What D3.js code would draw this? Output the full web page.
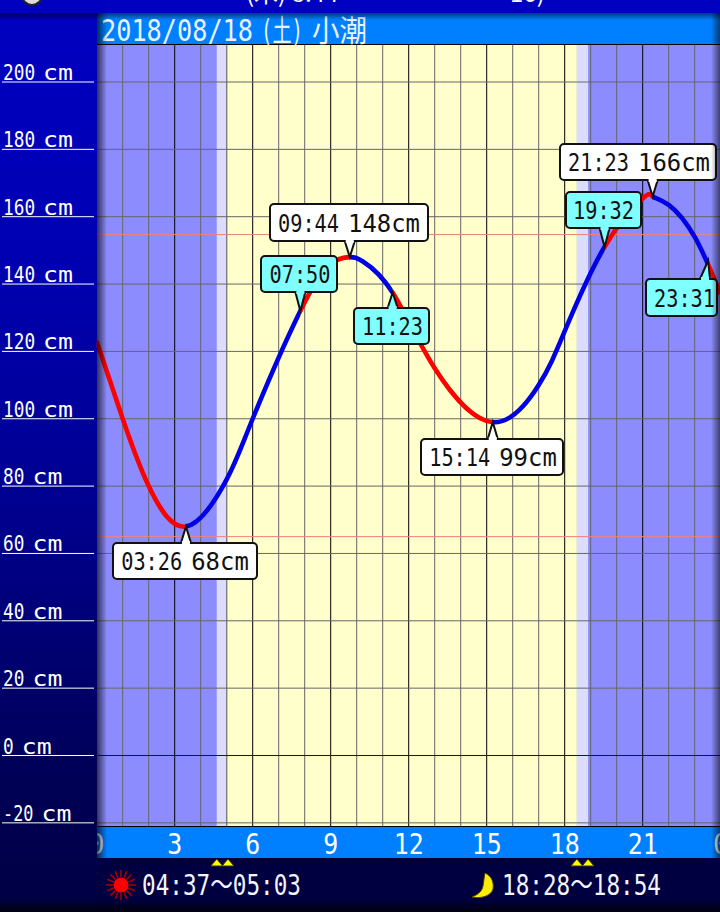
<!DOCTYPE html>
<html><head><meta charset="utf-8">
<script src="https://cdn.jsdelivr.net/npm/d3@7"></script>
<style>html,body{margin:0;padding:0;background:#000}svg{display:block}</style>
</head><body><svg id="c" width="720" height="912"></svg>
<script>
const heightTicks = [200,180,160,140,120,100,80,60,40,20,0,-20];
const hourLabels = [0,3,6,9,12,15,18,21,24];
const tideHours =  [0,1,2,3.43,5,6,7.83,9,9.73,10.24,11.38,13,15.23,17,18,19.53,21,21.38,22,23,24];
const tideValues = [123,100,80,68,82,100,132,146,148,146.7,137.5,115,99,110,126,151,165.4,166,163.5,154,137];
const eventTimes = ["03:26","07:50","09:44","11:23","15:14","19:32","21:23","23:31"];
const eventHours = [3+26/60,7+50/60,9+44/60,11+23/60,15+14/60,19+32/60,21+23/60,23+31/60];
const eventValues = [68,132,148,137.5,99,151,166,147];
const eventLevels = ["68cm","","148cm","","99cm","","166cm",""];
const redRanges = [[0,3+26/60],[7+50/60,9+44/60],[11+23/60,15+14/60],[19+32/60,21+23/60],[23+31/60,24]];
const blueRanges = [[3+26/60,7+50/60],[9+44/60,11+23/60],[15+14/60,19+32/60],[21+23/60,23+31/60]];
const refLevels = [154.7,65];
const sunTimes = [4+37/60,5+3/60];
const moonTimes = [18+28/60,18+54/60];
const headerParts = ["2018/08/18","(土)","小潮"];
const sunText = "04:37〜05:03";
const moonText = "18:28〜18:54";

const MONO = "'DejaVu Sans Mono','Noto Sans CJK JP',monospace";
const CJK = "'Noto Sans CJK JP','DejaVu Sans'";
const svg = d3.select("#c");
const x = d3.scaleLinear().domain([0,24]).range([96.7,720.7]);
const y = d3.scaleLinear().domain([0,200]).range([755.5,82]);
const T = 45, B = 826;
const defs = svg.append("defs");
function grad(id,x2,y2,stops){const g=defs.append("linearGradient").attr("id",id).attr("x1",0).attr("y1",0).attr("x2",x2).attr("y2",y2);
 stops.forEach(s=>g.append("stop").attr("offset",s[0]).attr("stop-color",s[1]).attr("stop-opacity",s[2]===undefined?1:s[2]));}
grad("left",0,1,[[0,"#0000c0"],[.25,"#0000b4"],[.55,"#000090"],[.85,"#000058"],[1,"#000044"]]);
grad("sL",1,0,[[0,"#000",.65],[1,"#000",0]]);
grad("sR",1,0,[[0,"#000",0],[1,"#000",.55]]);
grad("sT",0,1,[[0,"#000",.55],[1,"#000",0]]);
grad("sB",0,1,[[0,"#000",0],[1,"#000",.8]]);

svg.append("rect").attr("width",720).attr("height",912).attr("fill","#000040");
svg.append("rect").attr("width",97).attr("y",13).attr("height",892).attr("fill","url(#left)");
svg.append("rect").attr("width",720).attr("height",13).attr("fill","#0000c0");
svg.append("rect").attr("x",97).attr("y",13).attr("width",623).attr("height",32).attr("fill","#0080ff");
svg.append("rect").attr("x",97).attr("y",827).attr("width",623).attr("height",31).attr("fill","#0080ff");
svg.append("rect").attr("x",97).attr("y",858).attr("width",623).attr("height",47).attr("fill","#000040");

// top strip remnants
svg.append("circle").attr("cx",32).attr("cy",-5).attr("r",10).attr("fill","#ddd").attr("stroke","#222").attr("stroke-width",2);
svg.append("text").attr("x",246).attr("y",2).attr("fill","#fff").attr("font-family",CJK).attr("font-size",24).text("(木) 8:44");
svg.append("text").attr("x",510).attr("y",2).attr("fill","#fff").attr("font-family",CJK).attr("font-size",24).text("16)");

// plot backgrounds
const plot = svg.append("g");
plot.append("rect").attr("x",97).attr("y",T).attr("width",623).attr("height",B-T).attr("fill","#8c8cff");
plot.append("rect").attr("x",x(sunTimes[0])).attr("y",T).attr("width",x(sunTimes[1])-x(sunTimes[0])).attr("height",B-T).attr("fill","#dcdcff");
plot.append("rect").attr("x",x(moonTimes[0])).attr("y",T).attr("width",x(moonTimes[1])-x(moonTimes[0])).attr("height",B-T).attr("fill","#dcdcff");
plot.append("rect").attr("x",x(sunTimes[1])).attr("y",T).attr("width",x(moonTimes[0])-x(sunTimes[1])).attr("height",B-T).attr("fill","#ffffcc");

// grid
plot.append("g").selectAll("line").data(d3.range(1,24)).join("line")
 .attr("x1",d=>x(d)).attr("x2",d=>x(d)).attr("y1",T).attr("y2",B)
 .attr("stroke",d=>d%3===0?"#000":"#666").attr("stroke-width",1);
plot.append("g").selectAll("line").data(heightTicks).join("line")
 .attr("x1",97).attr("x2",720).attr("y1",d=>y(d)).attr("y2",d=>y(d))
 .attr("stroke",d=>d===0?"#0000cc":"#666").attr("stroke-width",1);
plot.append("g").selectAll("line").data(refLevels).join("line")
 .attr("x1",97).attr("x2",720).attr("y1",d=>y(d)).attr("y2",d=>y(d))
 .attr("stroke","#f08080").attr("stroke-width",1);
svg.append("line").attr("x1",97).attr("x2",720).attr("y1",T-.5).attr("y2",T-.5).attr("stroke","#000").attr("stroke-width",1);
svg.append("line").attr("x1",97).attr("x2",720).attr("y1",B+.5).attr("y2",B+.5).attr("stroke","#000").attr("stroke-width",1);

// y labels
const yg = svg.append("g");
yg.selectAll("line").data(heightTicks).join("line")
 .attr("x1",2).attr("x2",94).attr("y1",d=>y(d)).attr("y2",d=>y(d)).attr("stroke","#fff").attr("stroke-width",1);
const numW = d => String(Math.abs(d)).length*10.7 + (d<0?9:0);
yg.selectAll("text.n").data(heightTicks).join("text").attr("class","n")
 .attr("x",3).attr("y",d=>y(d)-2).attr("fill","#fff").attr("font-family",MONO).attr("font-size",22)
 .attr("textLength",numW).attr("lengthAdjust","spacingAndGlyphs").text(d=>d);
yg.selectAll("text.u").data(heightTicks).join("text").attr("class","u")
 .attr("x",d=>3+numW(d)+8).attr("y",d=>y(d)-2).attr("fill","#fff").attr("font-family",MONO).attr("font-size",22)
 .attr("textLength",30).attr("lengthAdjust","spacingAndGlyphs").text("cm");

// tide line
const pts = tideHours.map((h,i)=>[h,tideValues[i]]);
const line = d3.line().x(d=>x(d[0])).y(d=>y(d[1])).curve(d3.curveNatural);
function drawRanges(id,ranges,color){
 const cp=defs.append("clipPath").attr("id",id);
 ranges.forEach(r=>cp.append("rect").attr("x",x(r[0])).attr("y",0).attr("width",x(r[1])-x(r[0])).attr("height",912));
 svg.append("path").attr("d",line(pts)).attr("fill","none").attr("stroke",color).attr("stroke-width",4.6).attr("clip-path",`url(#${id})`);
}
drawRanges("redClip",redRanges,"#ff0000");
drawRanges("blueClip",blueRanges,"#0000e6");

// callouts
const boxes = [[113,543,144,36],[261,256,76,36],[270,204,158,37],[354,308,75,36],
 [421,439,142,36],[566,192,75,36],[560,144,156,36],[646,279,71,37]];
const textShift = [0,1,0,1,1,0,1,3];
const cg = svg.append("g");
eventTimes.forEach((tm,i)=>{
 const b=boxes[i], tx=x(eventHours[i]), ty=y(eventValues[i]), lv=eventLevels[i];
 const fill=lv?"#ffffff":"#80ffff";
 const g=cg.append("g");
 const up=ty<b[1];
 const edge=up?b[1]:b[1]+b[3];
 const c=Math.min(Math.max(tx,b[0]+12),b[0]+b[2]-12);
 g.append("rect").attr("x",b[0]).attr("y",b[1]).attr("width",b[2]).attr("height",b[3]).attr("rx",4)
  .attr("fill",fill).attr("stroke","#111").attr("stroke-width",2);
 g.append("path").attr("d",`M${c-5},${edge}L${tx},${ty}L${c+5},${edge}`).attr("fill",fill).attr("stroke","#111").attr("stroke-width",2);
 g.append("rect").attr("x",c-4).attr("y",edge-2).attr("width",8).attr("height",4).attr("fill",fill);
 const lw=lv?lv.length*14.4:0;
 const total=61+(lv?9+lw:0);
 const sx=b[0]+(b[2]-total)/2+textShift[i];
 const put=(s,px,w)=>g.append("text").attr("x",px).attr("y",b[1]+b[3]/2+9)
  .attr("font-family",MONO).attr("font-size",24).attr("fill","#111")
  .attr("textLength",w).attr("lengthAdjust","spacingAndGlyphs").text(s);
 put(tm,sx,61);
 if(lv) put(lv,sx+70,lw);
});

// header text
const headerX=[101,261,312], headerW=[152,42,55];
svg.append("g").selectAll("text").data(headerParts).join("text")
 .attr("x",(d,i)=>headerX[i]).attr("y",41).attr("fill","#e6f2ff").attr("font-family",MONO).attr("font-size",30)
 .attr("textLength",(d,i)=>headerW[i]).attr("lengthAdjust","spacingAndGlyphs").text(d=>d);

// x axis labels
const xClip=defs.append("clipPath").attr("id","xc");
xClip.append("rect").attr("x",97).attr("y",827).attr("width",623).attr("height",31);
svg.append("g").attr("clip-path","url(#xc)").selectAll("text").data(hourLabels).join("text")
 .attr("x",d=>x(d)).attr("y",854).attr("text-anchor","middle").attr("fill","#fff")
 .attr("font-family",MONO).attr("font-size",29)
 .attr("textLength",d=>String(d%24).length*15).attr("lengthAdjust","spacingAndGlyphs")
 .text(d=>d%24);

// shadows
svg.append("rect").attr("x",97).attr("y",13).attr("width",10).attr("height",845).attr("fill","url(#sL)");
svg.append("rect").attr("x",711).attr("y",13).attr("width",9).attr("height",845).attr("fill","url(#sR)");
svg.append("rect").attr("x",0).attr("y",13).attr("width",720).attr("height",7).attr("fill","url(#sT)");
svg.append("rect").attr("x",0).attr("y",899).attr("width",720).attr("height",13).attr("fill","url(#sB)");

// twilight markers
const tri=svg.append("g");
tri.selectAll("path").data(sunTimes.concat(moonTimes)).join("path")
 .attr("d",d=>`M${x(d)-6},866L${x(d)},859L${x(d)+6},866Z`).attr("fill","#ffff00").attr("stroke","#332").attr("stroke-width",1);

// sun
const sun=svg.append("g").attr("transform","translate(121,885)");
sun.selectAll("line").data(d3.range(16)).join("line")
 .attr("x1",d=>8*Math.cos(d*Math.PI/8)).attr("y1",d=>8*Math.sin(d*Math.PI/8))
 .attr("x2",d=>15*Math.cos(d*Math.PI/8)).attr("y2",d=>15*Math.sin(d*Math.PI/8))
 .attr("stroke","#a00000").attr("stroke-width",1.6);
sun.append("circle").attr("r",7.5).attr("fill","#ff0000");
// moon
svg.append("path").attr("transform","translate(484,886)")
 .attr("d","M1,-13 C8,-10 10,-3 9,3 C7,10 -3,13 -12,11 C-5,8 -2,5 -1,0 C0,-5 0,-9 1,-13Z")
 .attr("fill","#ffee00").attr("stroke","#554400").attr("stroke-width",1);

svg.append("text").attr("x",142).attr("y",895).attr("fill","#f4f4ff").attr("font-family",MONO).attr("font-size",28)
 .attr("textLength",159).attr("lengthAdjust","spacingAndGlyphs").text(sunText);
svg.append("text").attr("x",502).attr("y",895).attr("fill","#f4f4ff").attr("font-family",MONO).attr("font-size",28)
 .attr("textLength",159).attr("lengthAdjust","spacingAndGlyphs").text(moonText);
</script></body></html>
